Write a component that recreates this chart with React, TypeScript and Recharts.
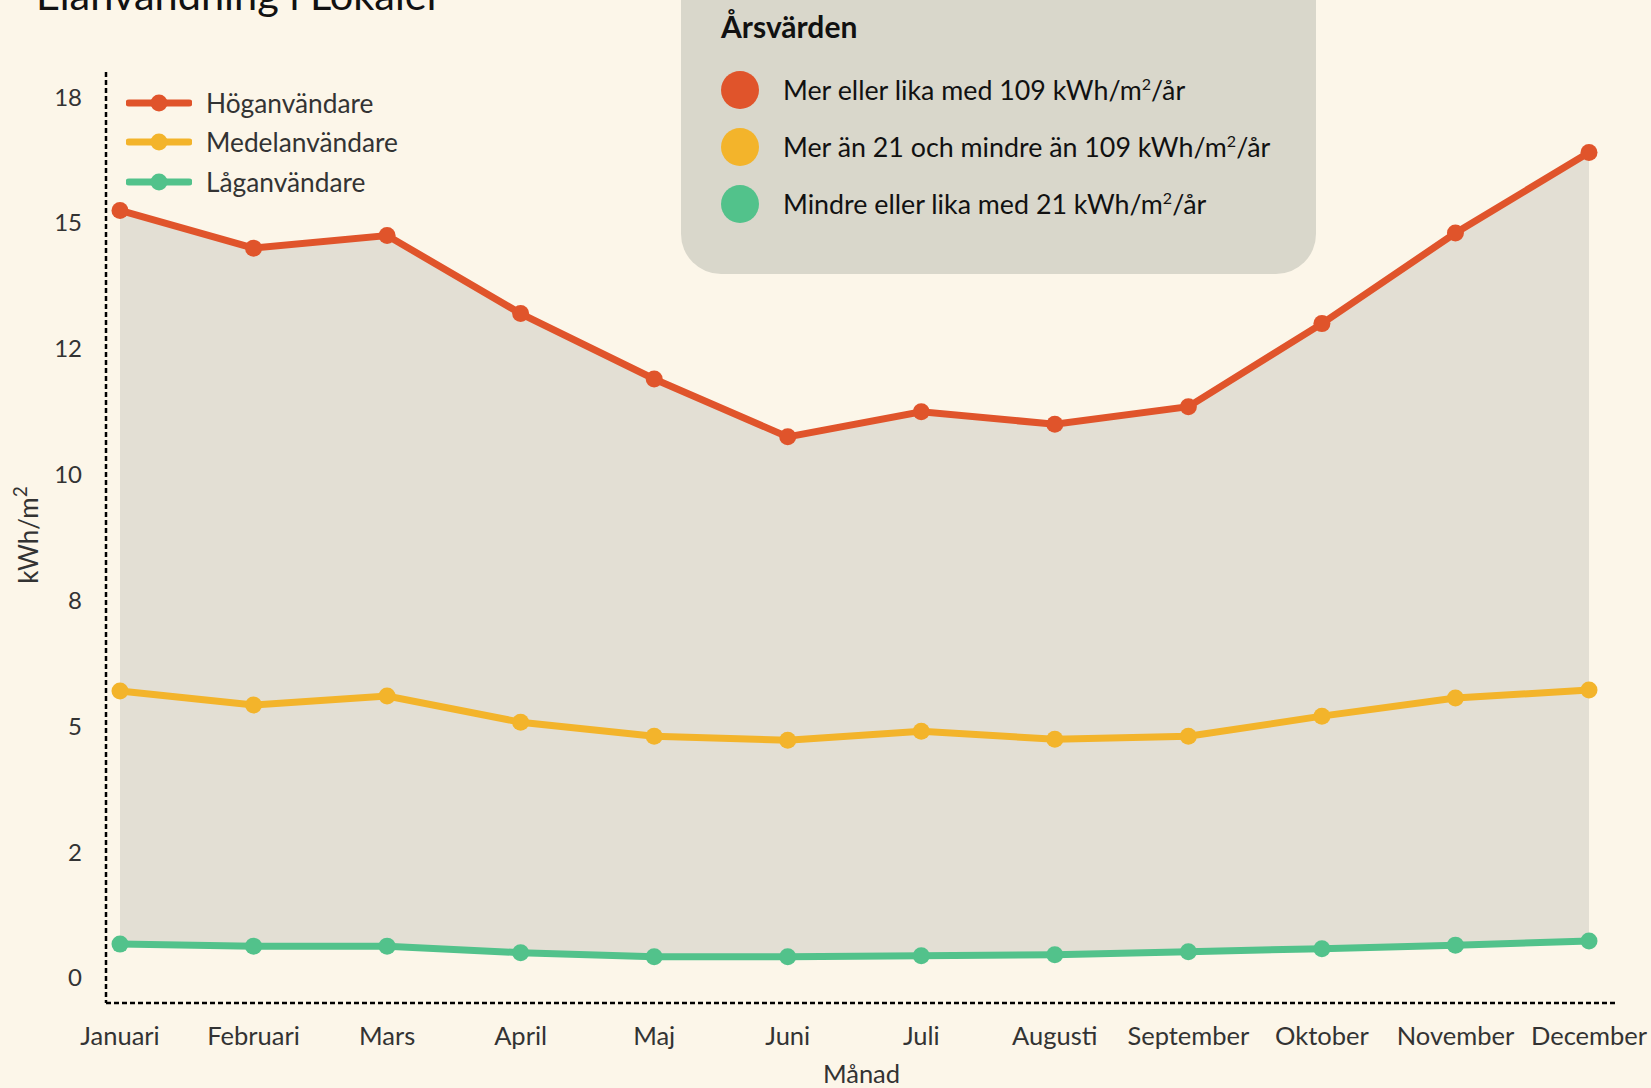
import React from 'react';
import { ComposedChart, Line, Area, XAxis, YAxis } from 'recharts';

const months = ['Januari', 'Februari', 'Mars', 'April', 'Maj', 'Juni', 'Juli', 'Augusti', 'September', 'Oktober', 'November', 'December'];
const high = [15.25, 14.5, 14.75, 13.2, 11.9, 10.75, 11.25, 11.0, 11.35, 13.0, 14.8, 16.4];
const mid = [5.7, 5.42, 5.6, 5.08, 4.8, 4.72, 4.9, 4.74, 4.8, 5.2, 5.56, 5.72];
const low = [0.67, 0.63, 0.63, 0.5, 0.42, 0.42, 0.44, 0.46, 0.52, 0.58, 0.65, 0.73];
const yTicks = [0, 2.5, 5, 7.5, 10, 12.5, 15, 17.5];
const yTickLabels = ['0', '2', '5', '8', '10', '12', '15', '18'];

const seriesNames = ['Höganvändare', 'Medelanvändare', 'Låganvändare'];
const colors = ['#e0542b', '#f3b42b', '#52c28b'];
const boxTitle = 'Årsvärden';
const boxItems = [
  ['Mer eller lika med 109 kWh/m', '/år'],
  ['Mer än 21 och mindre än 109 kWh/m', '/år'],
  ['Mindre eller lika med 21 kWh/m', '/år'],
];

const data = months.map((m, i) => ({
  month: m,
  high: high[i],
  mid: mid[i],
  low: low[i],
  range: [low[i], high[i]],
}));

const FONT = 'Lato, "Noto Sans", sans-serif';
const BG = '#fcf6e9';
const TEXT = '#333333';

export default function App() {
  return (
    <div style={{ position: 'absolute', left: 0, top: 0, width: 1651, height: 1088, background: BG, overflow: 'hidden', fontFamily: FONT }}>
      <div style={{ position: 'absolute', left: 36, top: -33, fontSize: 41.5, color: '#111', whiteSpace: 'nowrap', lineHeight: '54px' }}>
        Elanvändning i Lokaler
      </div>
      <ComposedChart
        width={1651}
        height={1088}
        data={data}
        margin={{ top: 72, right: 34, bottom: 0, left: 0 }}
      >
        <XAxis
          dataKey="month"
          height={85}
          axisLine={{ stroke: '#000', strokeWidth: 2.5, strokeDasharray: '5 3' }}
          tickLine={false}
          tickMargin={18}
          padding={{ left: 14, right: 28 }}
          tick={{ fill: TEXT, fontSize: 25.5, fontFamily: FONT }}
          interval={0}
          label={{ value: 'Månad', position: 'insideBottom', offset: 5, fill: TEXT, fontSize: 25.5, fontFamily: FONT }}
        />
        <YAxis
          width={106}
          domain={[-0.5, 18]}
          ticks={yTicks}
          tickFormatter={(v: number) => yTickLabels[yTicks.indexOf(v)]}
          axisLine={{ stroke: '#000', strokeWidth: 2.5, strokeDasharray: '5 3' }}
          tickLine={false}
          tickMargin={18}
          tick={{ fill: TEXT, fontSize: 24, fontFamily: FONT }}
          allowDataOverflow
          label={{
            content: () => (
              <text x={0} y={0} transform="translate(38,535) rotate(-90)" textAnchor="middle" fill={TEXT} fontSize={26} fontFamily={FONT}>
                kWh/m<tspan dy={-11} fontSize={19}>2</tspan>
              </text>
            ),
          }}
        />
        <Area
          dataKey="range"
          type="linear"
          fill="#e3dfd4"
          fillOpacity={1}
          stroke="#d9d6cb"
          strokeWidth={2}
          isAnimationActive={false}
          activeDot={false}
        />
        <Line dataKey="low" type="linear" stroke={colors[2]} strokeWidth={7} dot={{ r: 8.5, fill: colors[2], stroke: 'none' }} isAnimationActive={false} />
        <Line dataKey="mid" type="linear" stroke={colors[1]} strokeWidth={7} dot={{ r: 8.5, fill: colors[1], stroke: 'none' }} isAnimationActive={false} />
        <Line dataKey="high" type="linear" stroke={colors[0]} strokeWidth={7} dot={{ r: 8.5, fill: colors[0], stroke: 'none' }} isAnimationActive={false} />
      </ComposedChart>

      <div style={{ position: 'absolute', left: 126, top: 83 }}>
        {seriesNames.map((n, i) => (
          <div key={n} style={{ display: 'flex', alignItems: 'center', height: 39.5 }}>
            <svg width={66} height={24} style={{ display: 'block' }}>
              <line x1={3} y1={12} x2={63} y2={12} stroke={colors[i]} strokeWidth={7} strokeLinecap="round" />
              <circle cx={33} cy={12} r={8.5} fill={colors[i]} />
            </svg>
            <span style={{ marginLeft: 14, fontSize: 26.3, color: TEXT, whiteSpace: 'nowrap' }}>{n}</span>
          </div>
        ))}
      </div>

      <div style={{ position: 'absolute', left: 681, top: -60, width: 635, height: 334, background: '#d9d7cb', borderRadius: 40 }}>
        <div style={{ position: 'absolute', left: 40, top: 68, fontSize: 30, fontWeight: 700, color: '#111', whiteSpace: 'nowrap' }}>{boxTitle}</div>
        {boxItems.map((it, i) => (
          <div key={i} style={{ position: 'absolute', left: 40, top: 130 + i * 57, display: 'flex', alignItems: 'center', height: 40 }}>
            <div style={{ width: 38, height: 38, borderRadius: 19, background: colors[i] }} />
            <span style={{ marginLeft: 24, fontSize: 26.8, color: '#111', whiteSpace: 'nowrap' }}>
              {it[0]}<sup style={{ fontSize: 16 }}>2</sup>{it[1]}
            </span>
          </div>
        ))}
      </div>
    </div>
  );
}
